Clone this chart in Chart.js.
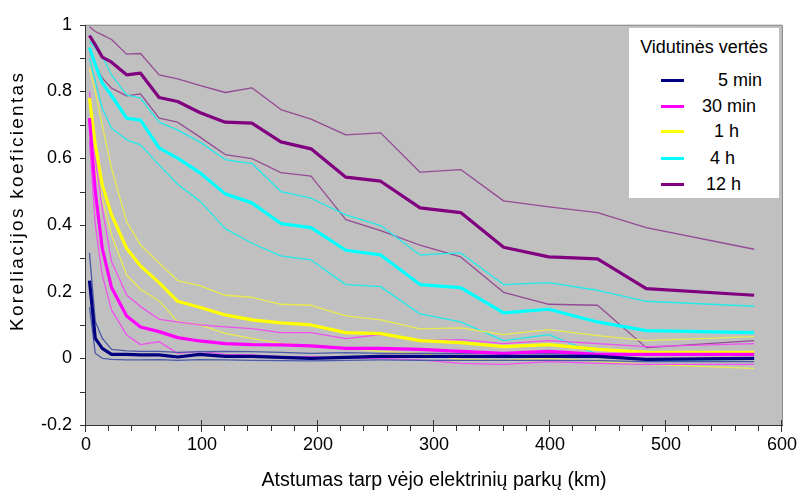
<!DOCTYPE html>
<html>
<head>
<meta charset="utf-8">
<script src="https://cdn.jsdelivr.net/npm/chart.js@4.4.0/dist/chart.umd.min.js"></script>
<style>
html,body{margin:0;padding:0;background:#fff;}
#wrap{position:relative;width:806px;height:495px;}
#legend{position:absolute;left:629px;top:28px;width:150px;height:170px;background:#fff;font-family:'Liberation Sans',Arial,sans-serif;font-size:18px;color:#000;}
#legend .ttl{position:absolute;left:0;width:150px;top:9px;text-align:center;white-space:nowrap;}
#legend .sw{position:absolute;left:32px;width:23px;height:3px;}
#legend .lb{position:absolute;white-space:nowrap;line-height:20px;}
</style>
</head>
<body>
<div id="wrap">
<canvas id="c" width="806" height="495"></canvas>
<div id="legend"></div>
</div>
<script>
// ---- data ----
const distKm = [3, 8, 14, 22, 35, 47, 63, 79, 98, 120, 143, 168, 194, 224, 254, 288, 323, 360, 399, 441, 483, 576];

const min5Mean = [0.233, 0.06, 0.03, 0.012, 0.012, 0.01, 0.01, 0.004, 0.012, 0.006, 0.006, 0.003, 0.0, 0.003, 0.006, 0.006, 0.006, 0.006, 0.006, 0.006, -0.003, 0.0];
const min5Hi   = [0.316, 0.11, 0.06, 0.027, 0.022, 0.021, 0.021, 0.018, 0.02, 0.021, 0.02, 0.018, 0.015, 0.017, 0.015, 0.015, 0.015, 0.015, 0.014, 0.012, 0.01, 0.01];
const min5Lo   = [0.153, 0.015, 0.0, -0.003, -0.005, -0.005, -0.004, -0.006, -0.004, -0.005, -0.006, -0.007, -0.008, -0.006, -0.005, -0.006, -0.006, -0.006, -0.006, -0.007, -0.01, -0.01];

const min30Mean = [0.72, 0.50, 0.33, 0.212, 0.127, 0.094, 0.08, 0.062, 0.052, 0.044, 0.041, 0.04, 0.037, 0.03, 0.03, 0.027, 0.021, 0.015, 0.021, 0.012, 0.012, 0.012];
const min30Hi   = [0.80, 0.60, 0.45, 0.29, 0.19, 0.155, 0.117, 0.109, 0.10, 0.094, 0.089, 0.077, 0.077, 0.059, 0.071, 0.053, 0.056, 0.044, 0.053, 0.044, 0.035, 0.044];
const min30Lo   = [0.65, 0.40, 0.25, 0.145, 0.07, 0.041, 0.05, 0.015, 0.021, 0.012, 0.01, 0.005, 0.005, 0.0, 0.0, -0.005, -0.015, -0.018, -0.01, -0.015, -0.018, -0.018];

const h1Mean = [0.78, 0.64, 0.52, 0.43, 0.33, 0.277, 0.227, 0.171, 0.153, 0.13, 0.115, 0.106, 0.10, 0.077, 0.074, 0.053, 0.047, 0.035, 0.041, 0.027, 0.018, 0.018];
const h1Hi   = [0.87, 0.80, 0.70, 0.57, 0.41, 0.34, 0.286, 0.233, 0.218, 0.189, 0.183, 0.162, 0.159, 0.127, 0.115, 0.088, 0.091, 0.071, 0.086, 0.068, 0.053, 0.065];
const h1Lo   = [0.70, 0.56, 0.48, 0.37, 0.25, 0.207, 0.172, 0.11, 0.10, 0.075, 0.06, 0.045, 0.038, 0.03, 0.021, 0.015, -0.003, -0.006, 0.0, -0.009, -0.018, -0.03];

const h4Mean = [0.932, 0.88, 0.826, 0.788, 0.72, 0.714, 0.631, 0.60, 0.557, 0.493, 0.466, 0.404, 0.392, 0.324, 0.31, 0.221, 0.212, 0.136, 0.147, 0.109, 0.083, 0.077];
const h4Hi   = [0.95, 0.93, 0.905, 0.85, 0.79, 0.78, 0.708, 0.684, 0.649, 0.596, 0.584, 0.50, 0.48, 0.43, 0.398, 0.31, 0.316, 0.221, 0.227, 0.204, 0.171, 0.156];
const h4Lo   = [0.90, 0.83, 0.75, 0.69, 0.655, 0.64, 0.58, 0.522, 0.472, 0.389, 0.345, 0.307, 0.295, 0.221, 0.215, 0.133, 0.109, 0.053, 0.071, 0.012, -0.006, -0.003];

const h12Mean = [0.968, 0.94, 0.903, 0.888, 0.85, 0.855, 0.782, 0.77, 0.737, 0.708, 0.705, 0.649, 0.628, 0.543, 0.531, 0.451, 0.437, 0.333, 0.304, 0.298, 0.209, 0.189];
const h12Hi   = [0.994, 0.98, 0.97, 0.956, 0.912, 0.914, 0.85, 0.838, 0.818, 0.797, 0.811, 0.746, 0.717, 0.67, 0.676, 0.558, 0.566, 0.472, 0.454, 0.437, 0.392, 0.327];
const h12Lo   = [0.92, 0.88, 0.84, 0.81, 0.787, 0.793, 0.72, 0.708, 0.664, 0.611, 0.599, 0.557, 0.546, 0.416, 0.383, 0.339, 0.304, 0.198, 0.162, 0.159, 0.032, 0.053];

const seriesNames = ['5 min', '30 min', '1 h', '4 h', '12 h'];
const legendTitle = 'Vidutinės vertės';
const xTitle = 'Atstumas tarp vėjo elektrinių parkų (km)';
const yTitle = 'Koreliacijos koeficientas';
const xTickLabels = [0, 100, 200, 300, 400, 500, 600];
const yTickLabels = [-0.2, 0, 0.2, 0.4, 0.6, 0.8, 1];

// ---- styling ----
const FONT = "'Liberation Sans', Arial, sans-serif";
const meanColors = ['#000080', '#ff00ff', '#ffff00', '#00ffff', '#800080'];
const thinColors = ['#4a5aa8', '#f050f0', '#eaea50', '#20eaea', '#944a94'];
const groups = [
  [min5Mean, min5Hi, min5Lo],
  [min30Mean, min30Hi, min30Lo],
  [h1Mean, h1Hi, h1Lo],
  [h4Mean, h4Hi, h4Lo],
  [h12Mean, h12Hi, h12Lo]
];
const pts = arr => arr.map((v, i) => ({x: distKm[i], y: v}));

const datasets = [];
groups.forEach((g, gi) => {
  datasets.push({label: seriesNames[gi], data: pts(g[0]), borderColor: meanColors[gi], borderWidth: 3.2, order: gi});
  datasets.push({label: seriesNames[gi] + ' +', data: pts(g[1]), borderColor: thinColors[gi], borderWidth: 1.3, order: 10 + gi});
  datasets.push({label: seriesNames[gi] + ' -', data: pts(g[2]), borderColor: thinColors[gi], borderWidth: 1.3, order: 10 + gi});
});
datasets.forEach(d => { d.showLine = true; d.pointRadius = 0; d.tension = 0; d.fill = false; d.borderJoinStyle = 'round'; });

const frame = {
  id: 'frame',
  beforeDraw(chart) {
    // y-axis title: slight letter spacing and shifted up, as in the reference
    const ys = chart.scales.y;
    if (ys && !ys._titlePatched) {
      const orig = ys.drawTitle;
      ys.drawTitle = function (...args) {
        const ctx = this.ctx;
        ctx.save();
        ctx.letterSpacing = '2.3px';
        ctx.translate(0, -24);
        orig.apply(this, args);
        ctx.restore();
      };
      ys._titlePatched = true;
    }
  },
  beforeDatasetsDraw(chart) {
    const {ctx, chartArea: a} = chart;
    ctx.save();
    ctx.fillStyle = '#c0c0c0';
    ctx.fillRect(a.left, a.top, a.right - a.left, a.bottom - a.top);
    ctx.restore();
  },
  afterDraw(chart) {
    const {ctx, chartArea: a, scales} = chart;
    ctx.save();
    ctx.lineWidth = 1;
    ctx.strokeStyle = '#8a8a8a';
    ctx.beginPath();
    ctx.moveTo(a.left, a.top + 0.5); ctx.lineTo(a.right + 0.5, a.top + 0.5); ctx.lineTo(a.right + 0.5, a.bottom);
    ctx.stroke();
    ctx.strokeStyle = '#333';
    ctx.beginPath();
    ctx.moveTo(a.left - 0.5, a.top); ctx.lineTo(a.left - 0.5, a.bottom + 0.5); ctx.lineTo(a.right + 1, a.bottom + 0.5);
    ctx.stroke();
    ctx.beginPath();
    for (let v = 0; v <= 600; v += 20) {
      const px = Math.round(scales.x.getPixelForValue(v)) - 0.5;
      if (v % 100 === 0) { ctx.moveTo(px, a.bottom - 5); ctx.lineTo(px, a.bottom + 7); }
      else { ctx.moveTo(px, a.bottom); ctx.lineTo(px, a.bottom + 6); }
    }
    for (let k = -2; k <= 10; k++) {
      const py = Math.round(scales.y.getPixelForValue(k / 10)) + 0.5;
      ctx.moveTo(a.left - 6, py); ctx.lineTo(a.left, py);
    }
    ctx.stroke();
    ctx.restore();
  }
};

const isLabelY = v => yTickLabels.some(t => Math.abs(t - v) < 1e-6);
const isLabelX = v => xTickLabels.some(t => Math.abs(t - v) < 1e-6);

new Chart(document.getElementById('c'), {
  type: 'scatter',
  data: {datasets},
  plugins: [frame],
  options: {
    responsive: false,
    animation: false,
    layout: {padding: {top: 18, right: 18, left: 0, bottom: 0}},
    plugins: {legend: {display: false}, tooltip: {enabled: false}},
    scales: {
      x: {
        type: 'linear', min: 0, max: 600,
        afterFit: s => { s.height = 70; },
        border: {display: false},
        grid: {display: false, drawTicks: false},
        ticks: {stepSize: 20, autoSkip: false, maxRotation: 0, padding: 9, color: '#000',
          font: {family: FONT, size: 18},
          callback: v => isLabelX(v) ? String(v) : ''},
        title: {display: true, text: xTitle, color: '#000', font: {family: FONT, size: 19.6}, padding: {top: 0, bottom: 3}}
      },
      y: {
        type: 'linear', min: -0.2, max: 1,
        afterFit: s => { s.width = 86; },
        border: {display: false},
        grid: {drawTicks: false, lineWidth: 1,
          color: c => { const k = Math.round(c.tick.value * 10); return (k % 2 === 0 && k > -2 && k < 10) ? '#1a1a1a' : 'rgba(0,0,0,0)'; }},
        ticks: {stepSize: 0.1, autoSkip: false, padding: 14, color: '#000',
          font: {family: FONT, size: 18},
          callback: v => isLabelY(v) ? String(Math.round(v * 10) / 10) : ''},
        title: {display: true, text: yTitle, color: '#000', font: {family: FONT, size: 19}, padding: {top: 6, bottom: 0}}
      }
    }
  }
});

// ---- legend (HTML text) ----
const leg = document.getElementById('legend');
const t = document.createElement('div'); t.className = 'ttl'; t.textContent = legendTitle; leg.appendChild(t);
const rowY = [52, 78, 103, 130, 156];
const labelX = [89, 73, 85, 81, 77];
seriesNames.forEach((n, i) => {
  const sw = document.createElement('div'); sw.className = 'sw'; sw.style.top = (rowY[i] - 1) + 'px'; sw.style.background = meanColors[i]; leg.appendChild(sw);
  const lb = document.createElement('div'); lb.className = 'lb'; lb.style.top = (rowY[i] - 10) + 'px'; lb.style.left = labelX[i] + 'px'; lb.textContent = n; leg.appendChild(lb);
});
</script>
</body>
</html>
